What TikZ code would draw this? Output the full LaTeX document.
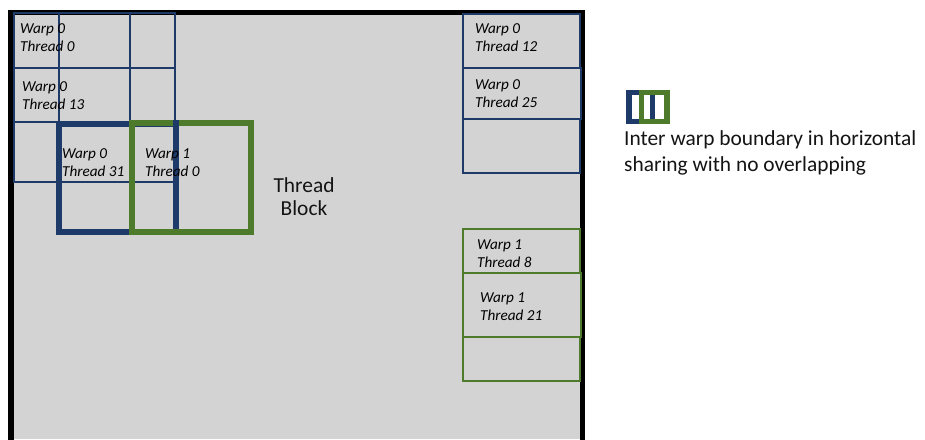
\documentclass[tikz,border=0pt]{standalone}
\usepackage{fontspec}
\setmainfont{Carlito}
\definecolor{navy}{RGB}{30,58,104}
\definecolor{wgreen}{RGB}{78,122,44}
\definecolor{blockgray}{RGB}{211,211,211}
\newcommand{\cellpair}[2]{\vtop{\baselineskip=18.5pt\hbox{#1}\hbox{#2}}}
\newcommand{\centerpair}[3]{\vtop{\baselineskip=#3\hbox to 0pt{\hss #1\hss}\hbox to 0pt{\hss #2\hss}}}
\newcommand{\leftpair}[3]{\vtop{\baselineskip=#3\hbox{#1}\hbox{#2}}}
\begin{document}
\begin{tikzpicture}[x=1pt,y=-1pt,
  thinnavy/.style={draw=navy, line width=2.6pt},
  thicknavy/.style={draw=navy, line width=5.5pt},
  thickgreen/.style={draw=wgreen, line width=5.5pt},
  thinnavyR/.style={draw=navy, line width=2.7pt},
  thingreen/.style={draw=wgreen, line width=2.7pt},
  celltext/.style={anchor=base west, inner sep=0pt, font=\fontsize{15.2}{18}\selectfont\itshape, text=black},
  bigtext/.style={inner sep=0pt, font=\fontsize{21.4}{26}\selectfont, text=black!92}]
\useasboundingbox (0,0) rectangle (925,439);
\fill[white] (0,0) rectangle (925,439);
% thread block
\fill[blockgray] (11,12.5) rectangle (582.5,439);
\draw[black, line width=5.5pt, line join=miter] (11,442) -- (11,12.5) -- (582.5,12.5) -- (582.5,442);
% top-left thin navy grid
\draw[thinnavy] (14,13) rectangle (130,68);
\draw[thinnavy] (59,13) rectangle (175,68);
\draw[thinnavy] (14,68) rectangle (130,122);
\draw[thinnavy] (59,68) rectangle (175,122);
\draw[thinnavy] (14,122) rectangle (130,182);
\draw[thinnavy] (59,122) rectangle (175,182);
% thick navy box
\draw[thicknavy, line join=miter] (59,124) rectangle (176,232);
% thick green box
\draw[thickgreen, line join=miter] (132,123) rectangle (251,232);
\draw[navy, line width=5.5pt] (176,120) -- (176,229);
% right column navy
\draw[thinnavyR] (463,14) rectangle (580,68);
\draw[thinnavyR] (463,68) rectangle (581,119);
\draw[thinnavyR] (463,119) rectangle (580,173);
% right column green
\draw[thingreen] (463,229) rectangle (580,273);
\draw[thingreen] (463,273) rectangle (581,337);
\draw[thingreen] (463,337) rectangle (580,381);
% cell texts
\node[celltext] (c00) at (20,33) {\cellpair{Warp 0}{Thread 0}};
\node[celltext] (c013) at (22,91) {\cellpair{Warp 0}{Thread 13}};
\node[celltext] (c031) at (62,158) {\cellpair{Warp 0}{Thread 31}};
\node[celltext] (c10) at (145,158) {\cellpair{Warp 1}{Thread 0}};
\node[celltext] (c012) at (475,33) {\cellpair{Warp 0}{Thread 12}};
\node[celltext] (c025) at (475,89) {\cellpair{Warp 0}{Thread 25}};
\node[celltext] (c18) at (477,249) {\cellpair{Warp 1}{Thread 8}};
\node[celltext] (c121) at (480,302) {\cellpair{Warp 1}{Thread 21}};
% thread block label
\node[bigtext, anchor=base] (tb) at (304,192) {\centerpair{Thread}{Block}{23pt}};
% legend icon
\draw[navy, line width=5.5pt, line join=miter] (629,92.5) rectangle (652.5,121.5);
\draw[wgreen, line width=5.5pt, line join=miter] (641.5,92.5) rectangle (667,121.5);
\node[bigtext, anchor=base west] (legend) at (624,145.5) {\leftpair{Inter warp boundary in horizontal}{sharing with no overlapping}{26pt}};
\end{tikzpicture}
\end{document}
